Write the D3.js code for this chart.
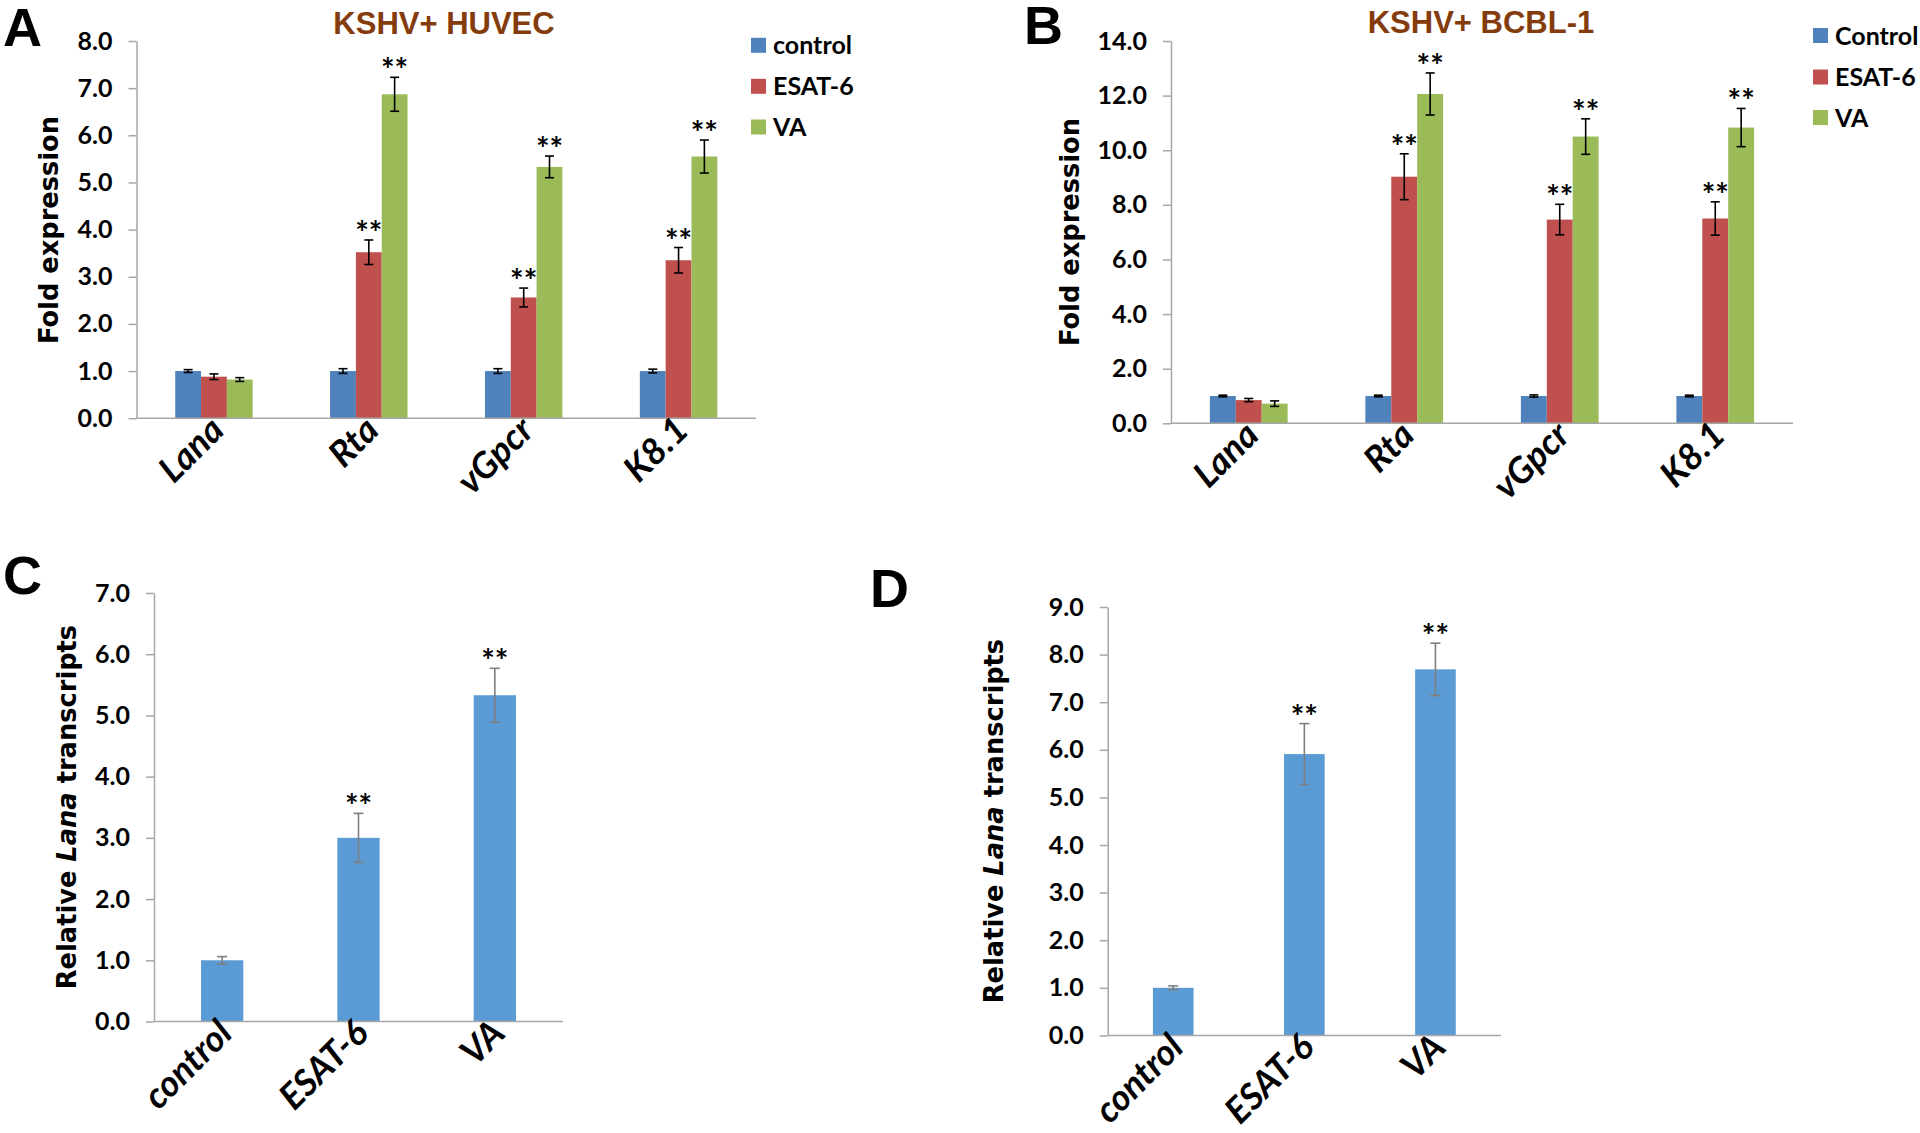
<!DOCTYPE html>
<html>
<head>
<meta charset="utf-8">
<script src="https://cdn.jsdelivr.net/npm/d3@7"></script>
<style>
  html, body { margin: 0; padding: 0; background: #ffffff; }
  svg { display: block; }
</style>
</head>
<body>
<svg id="chart" width="1920" height="1133"></svg>
<script>
// ---------------- DATA ----------------
const genes = ["Lana", "Rta", "vGpcr", "K8.1"];
const treatmentsHuvec = ["control", "ESAT-6", "VA"];
const treatmentsBcbl = ["Control", "ESAT-6", "VA"];

const huvecControl = [1.00, 1.00, 1.00, 1.00];
const huvecControlErr = [0.03, 0.05, 0.05, 0.04];
const huvecEsat = [0.88, 3.52, 2.56, 3.35];
const huvecEsatErr = [0.06, 0.26, 0.20, 0.27];
const huvecVA = [0.82, 6.87, 5.33, 5.55];
const huvecVAErr = [0.04, 0.36, 0.23, 0.35];

const bcblControl = [1.00, 1.00, 1.00, 1.00];
const bcblControlErr = [0.03, 0.03, 0.04, 0.03];
const bcblEsat = [0.85, 9.03, 7.46, 7.50];
const bcblEsatErr = [0.06, 0.84, 0.56, 0.61];
const bcblVA = [0.72, 12.06, 10.50, 10.83];
const bcblVAErr = [0.10, 0.77, 0.65, 0.70];

const sigControl = ["", "", "", ""];
const sigTreated = ["", "**", "**", "**"];

const lanaGroups = ["control", "ESAT-6", "VA"];
const lanaHuvec = [1.00, 3.00, 5.33];
const lanaHuvecErr = [0.06, 0.40, 0.44];
const lanaBcbl = [1.00, 5.91, 7.69];
const lanaBcblErr = [0.04, 0.64, 0.55];
const lanaSig = ["", "**", "**"];

const ticksA = [0, 1, 2, 3, 4, 5, 6, 7, 8];
const ticksB = [0, 2, 4, 6, 8, 10, 12, 14];
const ticksC = [0, 1, 2, 3, 4, 5, 6, 7];
const ticksD = [0, 1, 2, 3, 4, 5, 6, 7, 8, 9];

// ---------------- STYLE ----------------
const colControl = "#4F81BD", colEsat = "#C0504D", colVA = "#9BBB59";
const colSingle = "#5B9BD5";
const axisColor = "#A6A6A6";
const tickFont = "Lato, 'Noto Sans', sans-serif";
const titleFont = "'DejaVu Sans', Verdana, sans-serif";
const fmt = d3.format(".1f");

const svg = d3.select("#chart");

function drawYAxis(g, y, ticks, xAxis) {
  const ax = d3.axisLeft(y).tickValues(ticks).tickFormat(fmt).tickSize(8).tickSizeOuter(0).tickPadding(16);
  const a = g.append("g").attr("transform", `translate(${xAxis},0)`).call(ax);
  a.select(".domain").attr("stroke", axisColor).attr("stroke-width", 1.5);
  a.selectAll(".tick line").attr("stroke", axisColor).attr("stroke-width", 1.5);
  a.selectAll(".tick text").attr("fill", "#000").attr("font-family", tickFont)
    .attr("font-weight", 700).attr("font-size", 25);
}

function drawXLabels(g, x, cats, y0, dx, dy, size) {
  g.selectAll(null).data(cats).enter().append("text")
    .attr("transform", d => `translate(${x(d) + x.bandwidth() / 2 + dx},${y0 + dy}) rotate(-45)`)
    .attr("text-anchor", "end")
    .attr("font-family", tickFont).attr("font-weight", 700).attr("font-style", "italic")
    .attr("font-size", size).attr("fill", "#000")
    .text(d => d);
}

function errBar(g, cx, yTop, yBot, half, color, w) {
  g.append("line").attr("x1", cx).attr("x2", cx).attr("y1", yTop).attr("y2", yBot)
    .attr("stroke", color).attr("stroke-width", w);
  g.append("line").attr("x1", cx - half).attr("x2", cx + half).attr("y1", yTop).attr("y2", yTop)
    .attr("stroke", color).attr("stroke-width", w);
  g.append("line").attr("x1", cx - half).attr("x2", cx + half).attr("y1", yBot).attr("y2", yBot)
    .attr("stroke", color).attr("stroke-width", w);
}

function star(g, cx, yTop, txt) {
  if (!txt) return;
  g.append("text").attr("x", cx).attr("y", yTop + 5).attr("text-anchor", "middle")
    .attr("font-family", tickFont).attr("font-weight", 700).attr("font-size", 32)
    .attr("fill", "#000").text(txt);
}

function yTitle(g, x, y, size, parts) {
  const t = g.append("text").attr("transform", `translate(${x},${y}) rotate(-90)`)
    .attr("text-anchor", "middle").attr("font-family", titleFont).attr("font-weight", 700)
    .attr("font-size", size).attr("fill", "#000");
  parts.forEach(p => t.append("tspan").attr("font-style", p.italic ? "italic" : "normal").text(p.t));
}

function panelLetter(x, y, txt) {
  svg.append("text").attr("x", x).attr("y", y).attr("font-family", "'Liberation Sans', Arial, sans-serif")
    .attr("font-weight", 700).attr("font-size", 54).attr("fill", "#000").text(txt);
}

function chartTitle(x, y, txt) {
  svg.append("text").attr("x", x).attr("y", y).attr("text-anchor", "middle")
    .attr("font-family", "'Liberation Sans', Arial, sans-serif").attr("font-weight", 700)
    .attr("font-size", 31).attr("fill", "#843C0C").text(txt);
}

function legend(x, yCenters, names, colors) {
  names.forEach((n, i) => {
    svg.append("rect").attr("x", x).attr("y", yCenters[i] - 7.5).attr("width", 15).attr("height", 15)
      .attr("fill", colors[i]);
    svg.append("text").attr("x", x + 22).attr("y", yCenters[i]).attr("dy", "0.36em")
      .attr("font-family", tickFont).attr("font-weight", 700).attr("font-size", 25).attr("fill", "#000")
      .text(n);
  });
}

// ---------- grouped panel ----------
function groupedPanel(cfg) {
  const g = svg.append("g");
  const y = d3.scaleLinear().domain([0, cfg.yMax]).range([cfg.yBottom, cfg.yTop]);
  const x0 = d3.scaleBand().domain(genes).range([cfg.xLeft, cfg.xRight]).paddingInner(0.5).paddingOuter(0.25);
  const x1 = d3.scaleBand().domain(cfg.series.map(s => s.name)).range([0, x0.bandwidth()]);
  cfg.series.forEach(s => {
    genes.forEach((gene, i) => {
      const bx = x0(gene) + x1(s.name);
      g.append("rect").attr("x", bx).attr("y", y(s.values[i])).attr("width", x1.bandwidth())
        .attr("height", y(0) - y(s.values[i])).attr("fill", s.color);
    });
  });
  g.append("line").attr("x1", cfg.xLeft).attr("x2", cfg.xRight).attr("y1", y(0)).attr("y2", y(0))
    .attr("stroke", axisColor).attr("stroke-width", 1.5);
  cfg.series.forEach(s => {
    genes.forEach((gene, i) => {
      const cx = x0(gene) + x1(s.name) + x1.bandwidth() / 2;
      const top = y(s.values[i] + s.errs[i]);
      errBar(g, cx, top, y(s.values[i] - s.errs[i]), 4.5, "#000", 1.6);
      star(g, cx, top, s.sig[i]);
    });
  });
  drawYAxis(g, y, cfg.ticks, cfg.xLeft);
  drawXLabels(g, x0, genes, y(0), 12, 14, 36);
  yTitle(g, cfg.titleX, cfg.titleY, 25.7, [{ t: "Fold expression" }]);
}

function singlePanel(cfg) {
  const g = svg.append("g");
  const y = d3.scaleLinear().domain([0, cfg.yMax]).range([cfg.yBottom, cfg.yTop]);
  const x = d3.scaleBand().domain(lanaGroups).range([cfg.xLeft, cfg.xRight]).paddingInner(0.69).paddingOuter(0.345);
  lanaGroups.forEach((c, i) => {
    g.append("rect").attr("x", x(c)).attr("y", y(cfg.values[i])).attr("width", x.bandwidth())
      .attr("height", y(0) - y(cfg.values[i])).attr("fill", colSingle);
  });
  g.append("line").attr("x1", cfg.xLeft).attr("x2", cfg.xRight).attr("y1", y(0)).attr("y2", y(0))
    .attr("stroke", axisColor).attr("stroke-width", 1.5);
  lanaGroups.forEach((c, i) => {
    const cx = x(c) + x.bandwidth() / 2;
    const top = y(cfg.values[i] + cfg.errs[i]);
    errBar(g, cx, top, y(cfg.values[i] - cfg.errs[i]), 5, "#7F7F7F", 1.6);
    star(g, cx, top, lanaSig[i]);
  });
  drawYAxis(g, y, cfg.ticks, cfg.xLeft);
  drawXLabels(g, x, lanaGroups, y(0), 12, 14, 36);
  yTitle(g, cfg.titleX, cfg.titleY, 25.7, [{ t: "Relative " }, { t: "Lana", italic: true }, { t: " transcripts" }]);
}

// Panel A
groupedPanel({
  xLeft: 136.5, xRight: 756, yBottom: 418.2, yTop: 41, yMax: 8, ticks: ticksA,
  titleX: 58, titleY: 230,
  series: [
    { name: treatmentsHuvec[0], values: huvecControl, errs: huvecControlErr, sig: sigControl, color: colControl },
    { name: treatmentsHuvec[1], values: huvecEsat, errs: huvecEsatErr, sig: sigTreated, color: colEsat },
    { name: treatmentsHuvec[2], values: huvecVA, errs: huvecVAErr, sig: sigTreated, color: colVA }
  ]
});
chartTitle(444, 34, "KSHV+ HUVEC");
legend(751, [45.3, 86.3, 127], treatmentsHuvec, [colControl, colEsat, colVA]);
panelLetter(3, 46, "A");

// Panel B
groupedPanel({
  xLeft: 1171, xRight: 1793, yBottom: 423.3, yTop: 41, yMax: 14, ticks: ticksB,
  titleX: 1079, titleY: 232,
  series: [
    { name: treatmentsBcbl[0], values: bcblControl, errs: bcblControlErr, sig: sigControl, color: colControl },
    { name: treatmentsBcbl[1], values: bcblEsat, errs: bcblEsatErr, sig: sigTreated, color: colEsat },
    { name: treatmentsBcbl[2], values: bcblVA, errs: bcblVAErr, sig: sigTreated, color: colVA }
  ]
});
chartTitle(1481, 33, "KSHV+ BCBL-1");
legend(1813, [35.5, 77, 117.5], treatmentsBcbl, [colControl, colEsat, colVA]);
panelLetter(1024, 44, "B");

// Panel C
singlePanel({
  xLeft: 154, xRight: 563, yBottom: 1021.5, yTop: 593, yMax: 7, ticks: ticksC,
  values: lanaHuvec, errs: lanaHuvecErr, titleX: 75.5, titleY: 807
});
panelLetter(3, 594, "C");

// Panel D
singlePanel({
  xLeft: 1107.7, xRight: 1501, yBottom: 1035.4, yTop: 607, yMax: 9, ticks: ticksD,
  values: lanaBcbl, errs: lanaBcblErr, titleX: 1002.5, titleY: 821
});
panelLetter(870, 607, "D");
</script>
</body>
</html>
